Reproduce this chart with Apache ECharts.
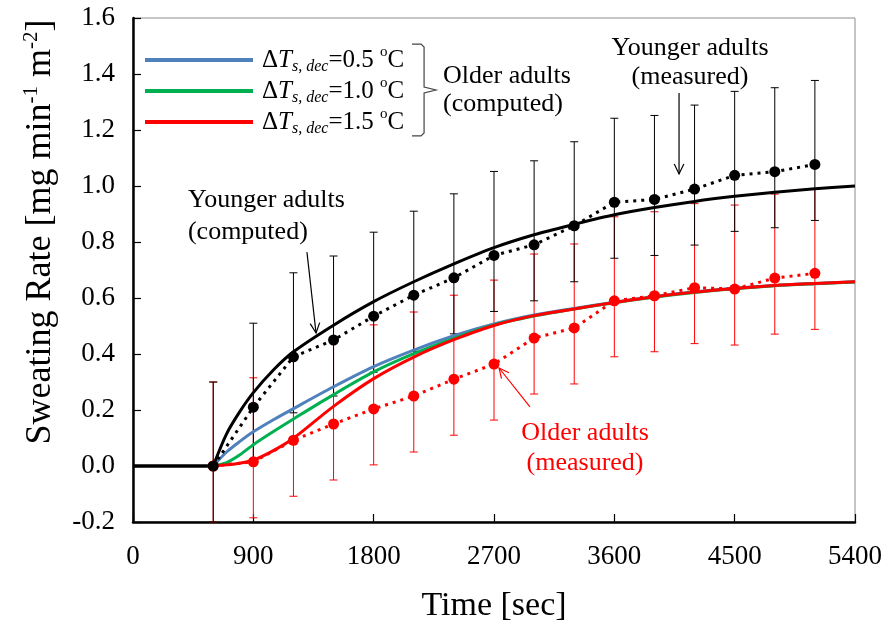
<!DOCTYPE html>
<html>
<head>
<meta charset="utf-8">
<script src="https://cdn.jsdelivr.net/npm/echarts@6/dist/echarts.min.js"></script>
<style>
html, body { margin: 0; padding: 0; background: #fff; }
#chart { width: 889px; height: 630px; }
</style>
</head>
<body>
<div id="chart"></div>
<script>
// measured data (every 300 s)
const measTime = [600, 900, 1200, 1500, 1800, 2100, 2400, 2700, 3000, 3300, 3600, 3900, 4200, 4500, 4800, 5100];
const youngMeas = [0.00, 0.21, 0.39, 0.45, 0.535, 0.61, 0.672, 0.752, 0.79, 0.858, 0.942, 0.952, 0.989, 1.038, 1.051, 1.077];
const youngErrUp = [0.30, 0.30, 0.30, 0.30, 0.30, 0.30, 0.30, 0.30, 0.30, 0.30, 0.30, 0.30, 0.30, 0.30, 0.30, 0.30];
const youngErrDown = [0.20, 0.20, 0.20, 0.20, 0.20, 0.20, 0.20, 0.20, 0.20, 0.20, 0.20, 0.20, 0.20, 0.20, 0.20, 0.20];
const oldMeas = [0.00, 0.015, 0.092, 0.15, 0.204, 0.25, 0.31, 0.364, 0.457, 0.493, 0.59, 0.608, 0.637, 0.632, 0.671, 0.688];
const oldErrUp = [0.30, 0.30, 0.30, 0.30, 0.30, 0.30, 0.30, 0.30, 0.30, 0.30, 0.30, 0.30, 0.30, 0.30, 0.30, 0.30];
const oldErrDown = [0.20, 0.20, 0.20, 0.20, 0.20, 0.20, 0.20, 0.20, 0.20, 0.20, 0.20, 0.20, 0.20, 0.20, 0.20, 0.20];

// computed curves
const flatTime = [0, 600];
const flatValue = [0, 0];
const compTime = [600, 700, 800, 900, 1050, 1200, 1500, 1800, 2100, 2400, 2700, 3000, 3300, 3600, 3900, 4200, 4500, 4800, 5100, 5400];
const youngComp = [0, 0.115, 0.195, 0.262, 0.343, 0.408, 0.503, 0.587, 0.658, 0.722, 0.780, 0.826, 0.863, 0.897, 0.923, 0.945, 0.963, 0.978, 0.990, 1.000];
const oldComp05 = [0, 0.050, 0.088, 0.122, 0.165, 0.205, 0.283, 0.355, 0.414, 0.465, 0.507, 0.539, 0.563, 0.585, 0.605, 0.622, 0.635, 0.645, 0.652, 0.658];
const oldComp10 = [0, 0.012, 0.040, 0.076, 0.123, 0.168, 0.255, 0.336, 0.401, 0.456, 0.504, 0.536, 0.561, 0.583, 0.603, 0.620, 0.633, 0.644, 0.651, 0.657];
const oldComp15 = [0, 0.004, 0.010, 0.021, 0.055, 0.099, 0.213, 0.312, 0.389, 0.451, 0.502, 0.537, 0.561, 0.584, 0.604, 0.621, 0.634, 0.645, 0.652, 0.658];
const dTdecLabels = ['0.5', '1.0', '1.5'];

// axes
const xMin = 0, xMax = 5400, xStep = 900;
const yMin = -0.2, yMax = 1.6, yStep = 0.2;

const FONT = '"Liberation Serif", "Times New Roman", serif';
const chart = echarts.init(document.getElementById('chart'));

const pairs = (xs, ys) => xs.map((x, i) => [x, ys[i]]);
const bars = (mean, up, down) => measTime.map((t, i) => [t, mean[i] - down[i], mean[i] + up[i]]);

function errorBar (color) {
    return function (params, api) {
        const x = api.value(0);
        const lo = api.coord([x, api.value(1)]);
        const hi = api.coord([x, api.value(2)]);
        const w = 4;
        const style = { stroke: color, lineWidth: 1 };
        return {
            type: 'group',
            children: [
                { type: 'line', shape: { x1: lo[0], y1: lo[1], x2: hi[0], y2: hi[1] }, style: style },
                { type: 'line', shape: { x1: lo[0] - w, y1: lo[1], x2: lo[0] + w, y2: lo[1] }, style: style },
                { type: 'line', shape: { x1: hi[0] - w, y1: hi[1], x2: hi[0] + w, y2: hi[1] }, style: style }
            ]
        };
    };
}

const compColors = ['#4F81BD', '#00B050', '#FF0000'];
const compData = [oldComp05, oldComp10, oldComp15];

const option = {
    animation: false,
    backgroundColor: '#fff',
    grid: {
        left: 133, right: 34, top: 18, bottom: 108,
        show: true, borderColor: '#8c8c8c', borderWidth: 1,
        outerBoundsMode: 'none'
    },
    legend: {
        orient: 'vertical',
        left: 145, top: 45, padding: 0,
        itemWidth: 108, itemHeight: 4, itemGap: 1,
        icon: 'rect',
        selectedMode: false,
        data: dTdecLabels.map(v => 'old|' + v),
        formatter: name => '{d|Δ}{t|T}{s|s, dec}{n|=' + name.split('|')[1] + ' }{o|o}{n|C}',
        textStyle: {
            fontFamily: FONT, fontSize: 25, color: '#000', padding: [0, 0, 0, 4],
            rich: {
                n: { fontFamily: FONT, fontSize: 25, lineHeight: 30, color: '#000' },
                d: { fontFamily: FONT, fontSize: 25, lineHeight: 30, color: '#000' },
                t: { fontFamily: FONT, fontSize: 25, lineHeight: 30, fontStyle: 'italic', color: '#000' },
                s: { fontFamily: FONT, fontSize: 16, lineHeight: 12, fontStyle: 'italic', verticalAlign: 'bottom', color: '#000' },
                o: { fontFamily: FONT, fontSize: 15, lineHeight: 20, verticalAlign: 'top', color: '#000' }
            }
        }
    },
    xAxis: {
        type: 'value',
        min: xMin, max: xMax, interval: xStep,
        name: 'Time [sec]',
        nameLocation: 'middle', nameGap: 64,
        nameTextStyle: { fontFamily: FONT, fontSize: 34, color: '#000', lineHeight: 40 },
        axisLine: { show: true, onZero: false, lineStyle: { color: '#000', width: 2.5 } },
        axisTick: { show: true, inside: true, length: 8, lineStyle: { color: '#000', width: 1.2 } },
        axisLabel: { fontFamily: FONT, fontSize: 27, color: '#000', margin: 21, formatter: v => String(v) },
        splitLine: { show: false }
    },
    yAxis: {
        type: 'value',
        min: yMin, max: yMax, interval: yStep,
        name: 'Sweating Rate [mg min{p|-1} m{p|-2}]',
        nameLocation: 'middle', nameGap: 72,
        nameTextStyle: {
            fontFamily: FONT, fontSize: 36, color: '#000', lineHeight: 40,
            padding: [0, 0, 0, 76],
            rich: {
                p: { fontFamily: FONT, fontSize: 21, lineHeight: 22, verticalAlign: 'top', color: '#000' }
            }
        },
        axisLine: { show: true, onZero: false, lineStyle: { color: '#000', width: 2.5 } },
        axisTick: { show: true, inside: true, length: 8, lineStyle: { color: '#000', width: 1.2 } },
        axisLabel: { fontFamily: FONT, fontSize: 27, color: '#000', margin: 18, formatter: v => v.toFixed(1) },
        splitLine: { show: false }
    },
    series: [
        {
            name: 'oldBars', type: 'custom', z: 1,
            renderItem: errorBar('#FF0000'),
            encode: { x: 0, y: [1, 2] },
            data: bars(oldMeas, oldErrUp, oldErrDown)
        },
        {
            name: 'youngBars', type: 'custom', z: 1,
            renderItem: errorBar('#000'),
            encode: { x: 0, y: [1, 2] },
            data: bars(youngMeas, youngErrUp, youngErrDown)
        },
        ...compData.map((d, i) => ({
            name: 'old|' + dTdecLabels[i],
            type: 'line', z: 2,
            smooth: 0.3,
            showSymbol: false,
            color: compColors[i],
            lineStyle: { color: compColors[i], width: 3 },
            data: pairs(compTime, d)
        })),
        {
            name: 'youngFlat', type: 'line', z: 2,
            showSymbol: false,
            lineStyle: { color: '#000', width: 3.5 },
            data: pairs(flatTime, flatValue)
        },
        {
            name: 'youngComp', type: 'line', z: 2,
            smooth: 0.3,
            showSymbol: false,
            lineStyle: { color: '#000', width: 3 },
            data: pairs(compTime, youngComp)
        },
        {
            name: 'oldMeas', type: 'line', z: 3,
            symbol: 'circle', symbolSize: 11,
            itemStyle: { color: '#FF0000' },
            lineStyle: { color: '#FF0000', width: 3, type: [3, 5] },
            data: pairs(measTime, oldMeas)
        },
        {
            name: 'youngMeas', type: 'line', z: 3,
            symbol: 'circle', symbolSize: 11,
            itemStyle: { color: '#000' },
            lineStyle: { color: '#000', width: 3, type: [3, 5] },
            data: pairs(measTime, youngMeas)
        }
    ]
};
chart.setOption(option);

// annotations placed in data coordinates
const toPx = p => chart.convertToPixel({ gridIndex: 0 }, p);

function arrow (from, to, color) {
    const a = toPx(from), b = toPx(to);
    const ang = Math.atan2(b[1] - a[1], b[0] - a[0]);
    const len = 11, spread = 0.45;
    const h1 = [b[0] - len * Math.cos(ang - spread), b[1] - len * Math.sin(ang - spread)];
    const h2 = [b[0] - len * Math.cos(ang + spread), b[1] - len * Math.sin(ang + spread)];
    return [
        { type: 'polyline', z: 10, shape: { points: [a, b] }, style: { stroke: color, lineWidth: 1.2, fill: null } },
        { type: 'polyline', z: 10, shape: { points: [h1, b, h2] }, style: { stroke: color, lineWidth: 1.2, fill: null } }
    ];
}

function label (text, at, align, color, lineHeight) {
    const p = toPx(at);
    return {
        type: 'text', z: 10, x: p[0], y: p[1],
        style: {
            text: text, fill: color, font: '26px ' + FONT,
            align: align, verticalAlign: 'middle', lineHeight: lineHeight
        }
    };
}

// brace next to legend
const braceTop = toPx([2087, 1.507]);
const braceMid = toPx([2177, 1.343]);
const braceBot = toPx([2087, 1.179]);
const bx = braceMid[0];
const brace = {
    type: 'polyline', z: 10,
    shape: {
        points: [
            [braceTop[0], braceTop[1]], [bx - 3, braceTop[1]], [bx, braceTop[1] + 3],
            [bx, braceMid[1] - 3], [bx + 12, braceMid[1]], [bx, braceMid[1] + 3],
            [bx, braceBot[1] - 3], [bx - 3, braceBot[1]], [braceBot[0], braceBot[1]]
        ]
    },
    style: { stroke: '#444', lineWidth: 1.2, fill: null }
};

chart.setOption({
    graphic: [
        brace,
        label('Older adults\n(computed)', [2319, 1.343], 'left', '#000', 28),
        label('Younger adults\n(measured)', [4166, 1.441], 'center', '#000', 29),
        label('Younger adults\n(computed)', [411, 0.893], 'left', '#000', 32),
        label('Older adults\n(measured)', [3381, 0.064], 'center', '#FF0000', 30),
        ...arrow([4084, 1.332], [4084, 1.043], '#000'),
        ...arrow([1301, 0.764], [1369, 0.475], '#000'),
        ...arrow([2969, 0.211], [2738, 0.35], '#FF0000')
    ]
});
</script>
</body>
</html>
